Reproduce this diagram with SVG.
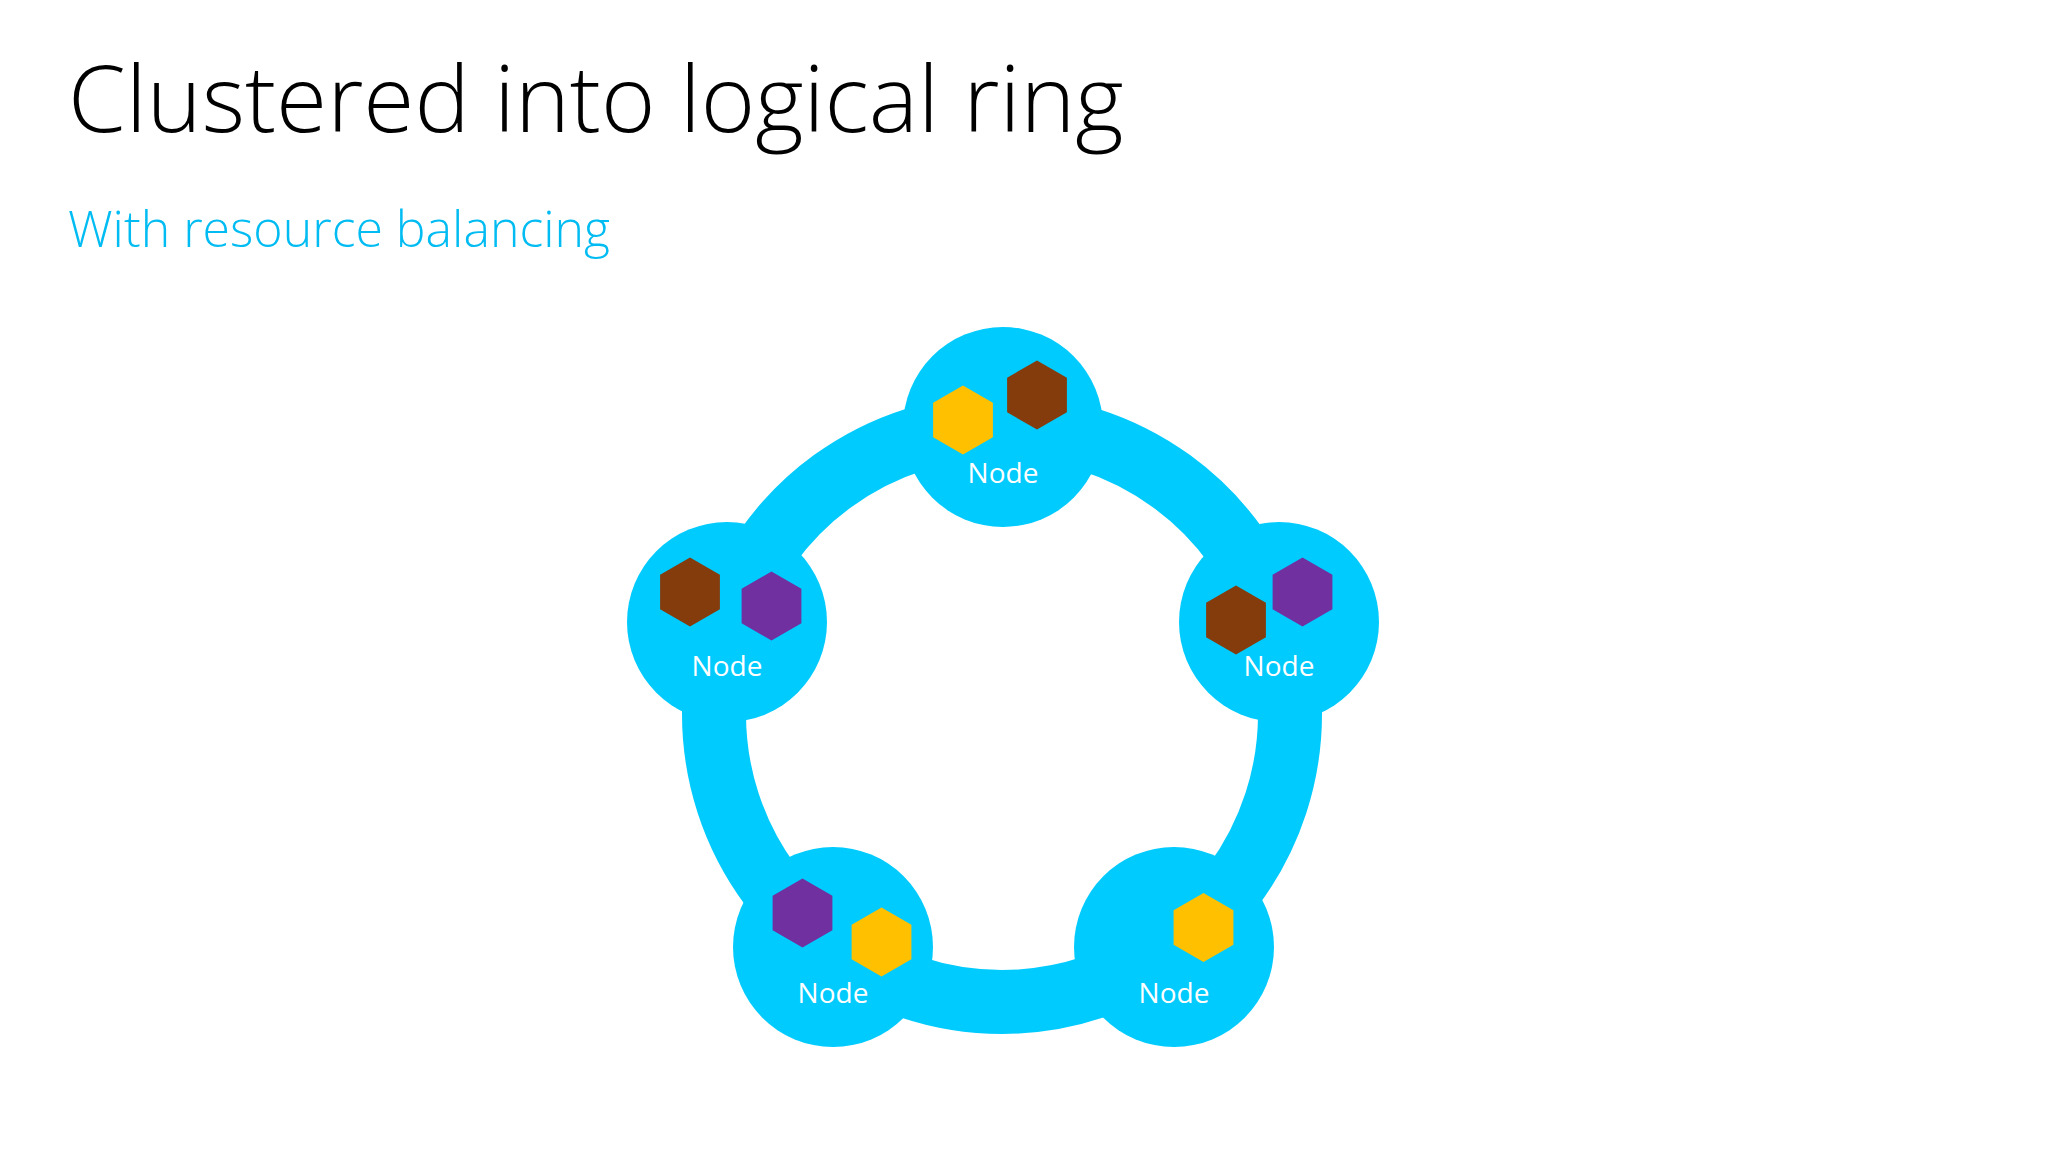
<svg xmlns="http://www.w3.org/2000/svg" xmlns:xlink="http://www.w3.org/1999/xlink" width="2048" height="1152" viewBox="0 0 2048 1152">
  <defs>
    <style>
      .title { font-family: "Open Sans", "Liberation Sans", sans-serif; font-size: 93px; fill: #000000; font-weight: 300; }
      .subtitle { font-family: "Open Sans", "Liberation Sans", sans-serif; font-size: 50px; fill: #00BCF2; font-weight: 300; }
      .node-circle { fill: #00CBFF; }
      .node-label { font-family: "Open Sans", "Liberation Sans", sans-serif; font-size: 28px; fill: #FFFFFF; text-anchor: middle; }
      .ring { fill: none; stroke: #00CBFF; stroke-width: 64; }
      .yellow { fill: #FFC000; }
      .brown { fill: #843C0C; }
      .purple { fill: #7030A0; }
    </style>
    <polygon id="hex" points="0,-34.5 29.9,-17.25 29.9,17.25 0,34.5 -29.9,17.25 -29.9,-17.25"/>
  </defs>
  <rect width="2048" height="1152" fill="#FFFFFF"/>

  <text class="title" x="68" y="132">Clustered into logical ring</text>
  <text class="subtitle" x="68" y="247">With resource balancing</text>

  <g id="connectors">
    <path class="ring" d="M 1002 426 A 288 288 0 0 1 1275.9 625"/>
    <path class="ring" d="M 1275.9 625 A 288 288 0 0 1 1171.3 947"/>
    <path class="ring" d="M 1171.3 947 A 288 288 0 0 1 832.7 947"/>
    <path class="ring" d="M 832.7 947 A 288 288 0 0 1 728.1 625"/>
    <path class="ring" d="M 728.1 625 A 288 288 0 0 1 1002 426"/>
  </g>

  <g id="node-top">
    <circle class="node-circle" cx="1003" cy="427" r="100"/>
    <use xlink:href="#hex" class="yellow" transform="translate(963,420)"/>
    <use xlink:href="#hex" class="brown" transform="translate(1037,395)"/>
    <text class="node-label" x="1003" y="483">Node</text>
  </g>

  <g id="node-left">
    <circle class="node-circle" cx="727" cy="622" r="100"/>
    <use xlink:href="#hex" class="brown" transform="translate(690,592)"/>
    <use xlink:href="#hex" class="purple" transform="translate(771.5,606)"/>
    <text class="node-label" x="727" y="676">Node</text>
  </g>

  <g id="node-right">
    <circle class="node-circle" cx="1279" cy="622" r="100"/>
    <use xlink:href="#hex" class="purple" transform="translate(1302.5,592)"/>
    <use xlink:href="#hex" class="brown" transform="translate(1236,620)"/>
    <text class="node-label" x="1279" y="676">Node</text>
  </g>

  <g id="node-bottom-left">
    <circle class="node-circle" cx="833" cy="947" r="100"/>
    <use xlink:href="#hex" class="purple" transform="translate(802.5,913)"/>
    <use xlink:href="#hex" class="yellow" transform="translate(881.5,942)"/>
    <text class="node-label" x="833" y="1003">Node</text>
  </g>

  <g id="node-bottom-right">
    <circle class="node-circle" cx="1174" cy="947" r="100"/>
    <use xlink:href="#hex" class="yellow" transform="translate(1203.5,927.5)"/>
    <text class="node-label" x="1174" y="1003">Node</text>
  </g>
</svg>
